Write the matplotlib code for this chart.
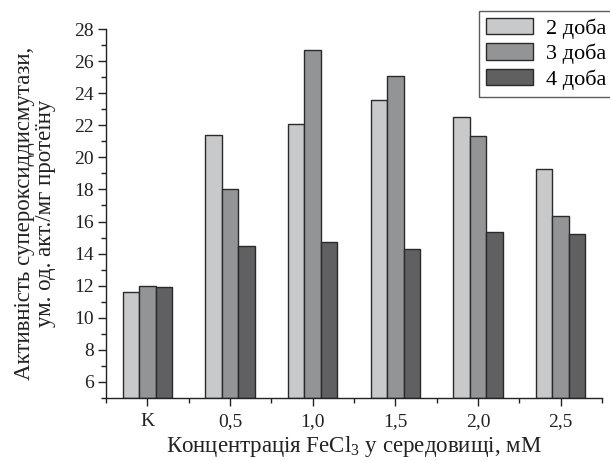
import matplotlib
matplotlib.use("Agg")
import matplotlib.pyplot as plt
import numpy as np
from matplotlib.ticker import MultipleLocator

categories = ["K", "0,5", "1,0", "1,5", "2,0", "2,5"]
series_names = ["2 доба", "3 доба", "4 доба"]
day2 = [11.6, 21.4, 22.1, 23.6, 22.5, 19.3]
day3 = [12.0, 18.0, 26.7, 25.1, 21.3, 16.35]
day4 = [11.9, 14.5, 14.7, 14.3, 15.35, 15.2]
yticks = [6, 8, 10, 12, 14, 16, 18, 20, 22, 24, 26, 28]

colors = ["#c8c9cb", "#939496", "#606062"]
edge = "#2a2a2a"

plt.rcParams["font.family"] = ["Liberation Serif", "DejaVu Serif"]
plt.rcParams["mathtext.fontset"] = "custom"
plt.rcParams["mathtext.rm"] = "Liberation Serif"
plt.rcParams["mathtext.it"] = "Liberation Serif"
plt.rcParams["mathtext.bf"] = "Liberation Serif"

fig = plt.figure(figsize=(6.1, 4.61), dpi=100)
ax = fig.add_axes([106/610, 1-398/461, (602-106)/610, (398-29)/461])

x = np.arange(len(categories))
w = 0.2
bottom = 5
for i, (vals, name, c) in enumerate(zip([day2, day3, day4], series_names, colors)):
    ax.bar(x + (i-1)*w, np.array(vals) - bottom, width=w, bottom=bottom,
           color=c, edgecolor=edge, linewidth=1.0, label=name, zorder=2)

ax.set_xlim(-0.5, len(categories) - 0.5)
ax.set_ylim(5, 28)
ax.set_xticks(x)
ax.set_xticklabels(categories)
ax.xaxis.set_minor_locator(MultipleLocator(1.0, offset=0.5))
ax.set_yticks(yticks)
ax.yaxis.set_minor_locator(MultipleLocator(1))
ax.spines["top"].set_visible(False)
ax.spines["right"].set_visible(False)
for s in ["left", "bottom"]:
    ax.spines[s].set_linewidth(1.0)
    ax.spines[s].set_color("#222222")
ax.tick_params(axis="both", which="major", direction="out", length=6, width=1.0,
               labelsize=14, colors="#222222")
ax.tick_params(axis="both", which="minor", direction="out", length=3.5, width=1.0,
               colors="#222222")
ax.tick_params(axis="x", which="major", pad=5)
ax.tick_params(axis="y", which="major", pad=2.5)

ax.set_ylabel("Активність супероксиддисмутази,\nум. од. акт./мг протеїну",
              fontsize=16.5, color="#222222", labelpad=13, linespacing=1.05)
ax.set_xlabel("Концентрація FeCl$_3$ у середовищі, мМ", fontsize=16.5,
              color="#222222", labelpad=3)

leg = ax.legend(loc="upper left", bbox_to_anchor=(479/610, 1-11/461),
                bbox_transform=fig.transFigure, fontsize=16, frameon=True,
                fancybox=False, edgecolor="#333333", handlelength=2.15,
                handleheight=0.75, handletextpad=0.55, labelspacing=0.22,
                borderpad=0.3, borderaxespad=0)
leg.get_frame().set_linewidth(1.0)

fig.savefig("out.png", dpi=100)
